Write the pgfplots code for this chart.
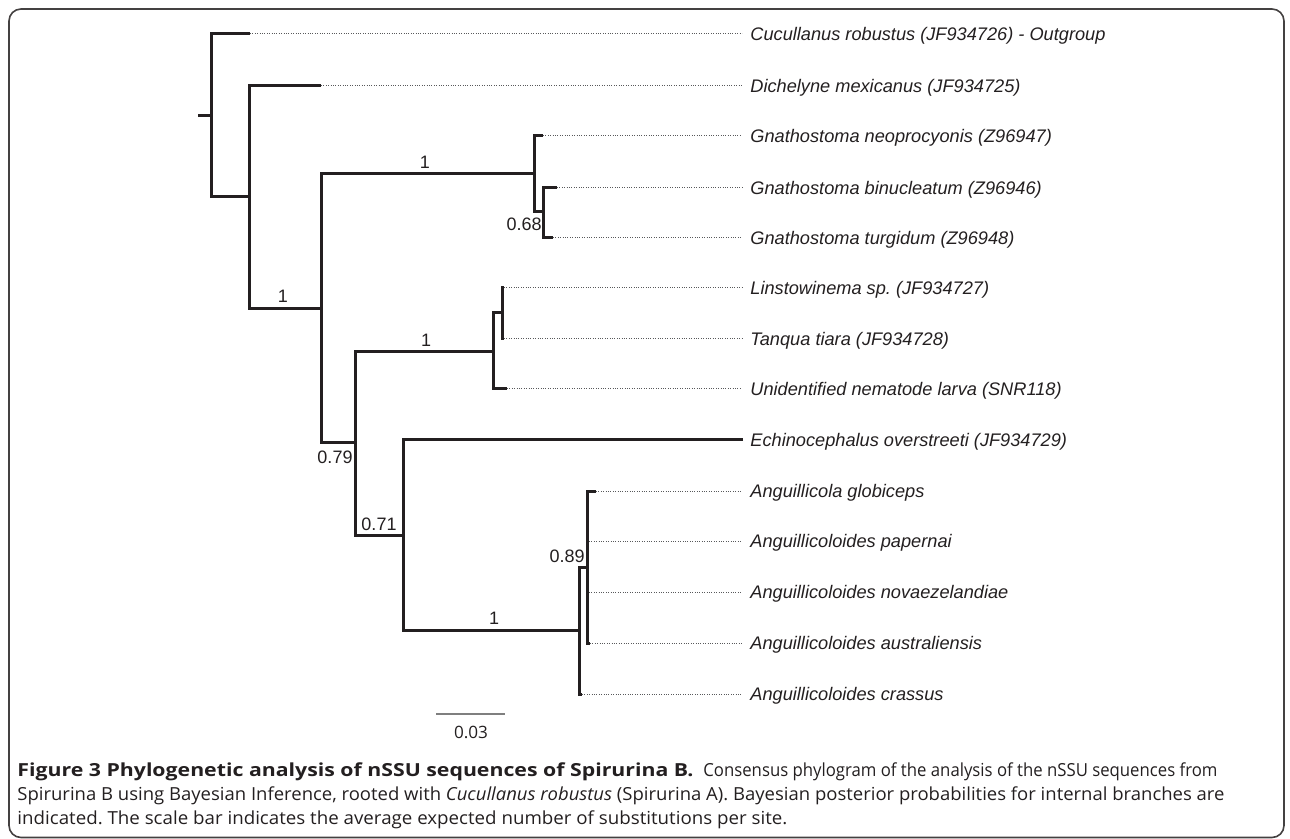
\documentclass[border=0pt]{standalone}
\usepackage{fontspec}
\setmainfont{Liberation Sans}
\newfontfamily\capfont{Open Sans}
\usepackage{graphicx}
\usepackage{pgfplots}
\pgfplotsset{compat=1.18}
\frenchspacing
\definecolor{ink}{HTML}{231F20}
\definecolor{dotc}{HTML}{58595B}
\definecolor{barc}{HTML}{7F7F7F}
\tikzset{
  br/.style={line width=1.5pt, color=ink, line join=miter, mark=none},
  dt/.style={line width=0.5pt, color=dotc, dash pattern=on 0.5pt off 0.7pt, mark=none},
  tiplab/.style={anchor=base west, inner sep=0pt, font=\itshape\fontsize{9.1}{11}\selectfont, text=ink},
  suplab/.style={inner sep=0pt, font=\fontsize{9}{11}\selectfont, text=ink},
  caplab/.style={anchor=base west, inner sep=0pt, font=\capfont\fontsize{9}{11}\selectfont, text=ink},
}
\begin{document}
\begin{tikzpicture}
\begin{axis}[
  width=645pt, height=419.5pt, scale only axis,
  xmin=0, xmax=1290, ymin=0, ymax=839, y dir=reverse,
  hide axis, clip=false,
]
% invisible extent
\path (axis cs:0,0) rectangle (axis cs:1290,839);
% frame
\draw[rounded corners=6pt, line width=0.8pt, color=ink!85] (axis cs:9,9) rectangle (axis cs:1284,837.5);

% ---- branches (pixel coordinates) ----
\addplot[br] coordinates {(198,116) (211,116)};
\addplot[br] coordinates {(250,34) (211,34) (211,197) (249,197)};
\addplot[br] coordinates {(321,86) (249,86) (249,309) (321,309)};
\addplot[br] coordinates {(534,174) (321,174) (321,443) (355,443)};
\addplot[br] coordinates {(543,136) (534,136) (534,212) (543,212)};
\addplot[br] coordinates {(557,188) (543,188) (543,238) (553,238)};
\addplot[br] coordinates {(493,352) (355,352) (355,535) (403,535)};
\addplot[br] coordinates {(502,313) (493,313) (493,389) (507,389)};
\addplot[br] coordinates {(504,288) (502,288) (502,339) (504,339)};
\addplot[br] coordinates {(743,440) (403,440) (403,630) (579,630)};
\addplot[br] coordinates {(587,567) (579,567) (579,694) (582,694)};
\addplot[br] coordinates {(596,491) (587,491) (587,643) (590,643)};
\addplot[br] coordinates {(587,541) (589,541)};
\addplot[br] coordinates {(587,592) (589,592)};

% ---- dotted leaders ----
\addplot[dt] coordinates {(250,34) (742,34)};
\addplot[dt] coordinates {(321,86) (742,86)};
\addplot[dt] coordinates {(543,136) (742,136)};
\addplot[dt] coordinates {(557,188) (742,188)};
\addplot[dt] coordinates {(553,238) (742,238)};
\addplot[dt] coordinates {(504,288) (742,288)};
\addplot[dt] coordinates {(504,339) (742,339)};
\addplot[dt] coordinates {(507,389) (742,389)};
\addplot[dt] coordinates {(596,491) (742,491)};
\addplot[dt] coordinates {(589,541) (742,541)};
\addplot[dt] coordinates {(589,592) (742,592)};
\addplot[dt] coordinates {(590,643) (742,643)};
\addplot[dt] coordinates {(582,694) (742,694)};

% ---- scale bar ----
\addplot[line width=1pt, color=barc, mark=none] coordinates {(436,714) (505,714)};
\node[inner sep=0pt, anchor=base, font=\capfont\fontsize{8.5}{10}\selectfont, text=ink] at (axis cs:471,738.5) {\resizebox{17pt}{\height}{0.03}};

% ---- tip labels ----
\node[tiplab] at (axis cs:750,40.5) {Cucullanus robustus (JF934726) - Outgroup};
\node[tiplab] at (axis cs:750,92.5) {Dichelyne mexicanus (JF934725)};
\node[tiplab] at (axis cs:750,142.5) {Gnathostoma neoprocyonis (Z96947)};
\node[tiplab] at (axis cs:750,194.5) {Gnathostoma binucleatum (Z96946)};
\node[tiplab] at (axis cs:750,244.5) {Gnathostoma turgidum (Z96948)};
\node[tiplab] at (axis cs:750,294.5) {Linstowinema sp. (JF934727)};
\node[tiplab] at (axis cs:750,345.5) {Tanqua tiara (JF934728)};
\node[tiplab] at (axis cs:750,395.5) {Unidentified nematode larva (SNR118)};
\node[tiplab] at (axis cs:750,446.5) {Echinocephalus overstreeti (JF934729)};
\node[tiplab] at (axis cs:750,497.5) {Anguillicola globiceps};
\node[tiplab] at (axis cs:750,547.5) {Anguillicoloides papernai};
\node[tiplab] at (axis cs:750,598.5) {Anguillicoloides novaezelandiae};
\node[tiplab] at (axis cs:750,649.5) {Anguillicoloides australiensis};
\node[tiplab] at (axis cs:750,700.5) {Anguillicoloides crassus};

% ---- support values ----
\node[suplab] at (axis cs:283,296) {1};
\node[suplab] at (axis cs:425,162) {1};
\node[suplab, anchor=east] at (axis cs:542,224) {0.68};
\node[suplab] at (axis cs:426,340) {1};
\node[suplab] at (axis cs:335,457) {0.79};
\node[suplab] at (axis cs:379,524) {0.71};
\node[suplab] at (axis cs:494,618) {1};
\node[suplab, anchor=east] at (axis cs:585,556) {0.89};

% ---- caption ----
\node[caplab] at (axis cs:17,776)
  {\resizebox{338pt}{\height}{\textbf{Figure 3 Phylogenetic analysis of nSSU sequences of Spirurina B.}}};
\node[caplab] at (axis cs:703,776)
  {\resizebox{257pt}{\height}{Consensus phylogram of the analysis of the nSSU sequences from}};
\node[caplab] at (axis cs:17,800)
  {\resizebox{603.5pt}{\height}{Spirurina B using Bayesian Inference, rooted with \textit{Cucullanus robustus} (Spirurina A). Bayesian posterior probabilities for internal branches are}};
\node[caplab] at (axis cs:17,824)
  {\resizebox{385pt}{\height}{indicated. The scale bar indicates the average expected number of substitutions per site.}};
\end{axis}
\end{tikzpicture}
\end{document}
